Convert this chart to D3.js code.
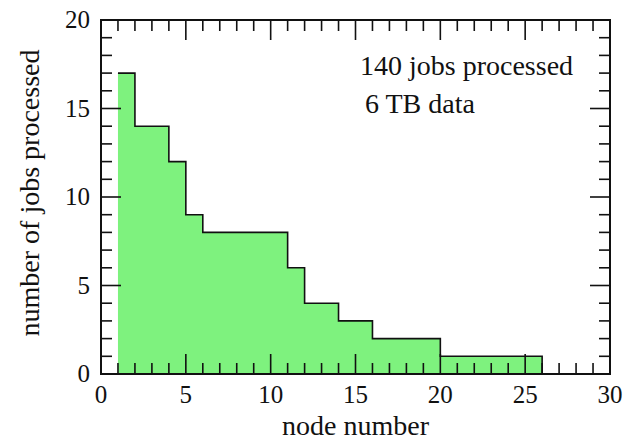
<!DOCTYPE html>
<html>
<head>
<meta charset="utf-8">
<script src="https://cdn.jsdelivr.net/npm/d3@7"></script>
<style>
    html, body { margin: 0; padding: 0; background: #fff; }
</style>
</head>
<body>
<svg id="chart" width="630" height="441"></svg>
<script>
// jobs processed per node (node n covers [n, n+1])
const nodes = [1, 2, 3, 4, 5, 6, 7, 8, 9, 10, 11, 12, 13, 14, 15, 16, 17, 18, 19, 20, 21, 22, 23, 24, 25];
const jobs  = [17, 14, 14, 12, 9, 8, 8, 8, 8, 8, 6, 4, 4, 3, 3, 2, 2, 2, 2, 1, 1, 1, 1, 1, 1];
const xTicks = [0, 5, 10, 15, 20, 25, 30];
const yTicks = [0, 5, 10, 15, 20];
const notes = ["140 jobs processed", "6 TB data"];

const FONT = "'Liberation Serif', 'Times New Roman', Times, serif";

const svg = d3.select("#chart")
    .attr("font-family", FONT);
const margin = { top: 20, right: 20, bottom: 67, left: 101 };
const width = 630 - margin.left - margin.right;
const height = 441 - margin.top - margin.bottom;

const x = d3.scaleLinear().domain([0, 30]).range([0, width]);
const y = d3.scaleLinear().domain([0, 20]).range([height, 0]);

const g = svg.append("g").attr("transform", `translate(${margin.left},${margin.top})`);

// step outline points
const pts = [];
nodes.forEach((n, i) => {
    pts.push([n, jobs[i]]);
    pts.push([n + 1, jobs[i]]);
});
const last = nodes[nodes.length - 1] + 1;

const area = d3.area()
    .x(d => x(d[0]))
    .y0(y(0))
    .y1(d => y(d[1]));

g.append("path")
    .datum(pts)
    .attr("d", area)
    .attr("fill", "#7ef27e");

const line = d3.line().x(d => x(d[0])).y(d => y(d[1]));
g.append("path")
    .datum(pts.concat([[last, 0]]))
    .attr("d", line)
    .attr("fill", "none")
    .attr("stroke", "#111")
    .attr("stroke-width", 1.6);

// inward ticks on all four sides
const major = 20, minor = 11;
const xMinor = d3.range(0, 31);
const yMinor = d3.range(0, 21);

function tickLen(v) { return v % 5 === 0 ? major : minor; }

const ticks = g.append("g").attr("stroke", "#111").attr("stroke-width", 1.6);
xMinor.slice(1, -1).forEach(v => {
    ticks.append("line").attr("x1", x(v)).attr("x2", x(v))
        .attr("y1", height).attr("y2", height - tickLen(v));
    ticks.append("line").attr("x1", x(v)).attr("x2", x(v))
        .attr("y1", 0).attr("y2", tickLen(v));
});
yMinor.slice(1, -1).forEach(v => {
    ticks.append("line").attr("y1", y(v)).attr("y2", y(v))
        .attr("x1", 0).attr("x2", tickLen(v));
    ticks.append("line").attr("y1", y(v)).attr("y2", y(v))
        .attr("x1", width).attr("x2", width - tickLen(v));
});

// frame
g.append("rect")
    .attr("width", width)
    .attr("height", height)
    .attr("fill", "none")
    .attr("stroke", "#111")
    .attr("stroke-width", 2);

// tick labels
g.selectAll(".xlab")
    .data(xTicks)
    .enter()
    .append("text")
    .attr("class", "xlab")
    .attr("x", d => x(d))
    .attr("y", height + 29)
    .attr("text-anchor", "middle")
    .attr("font-family", FONT)
    .attr("font-size", 25)
    .attr("fill", "#111")
    .text(d => d);

g.selectAll(".ylab")
    .data(yTicks)
    .enter()
    .append("text")
    .attr("class", "ylab")
    .attr("x", -11)
    .attr("y", d => y(d) + 8)
    .attr("text-anchor", "end")
    .attr("font-family", FONT)
    .attr("font-size", 25)
    .attr("fill", "#111")
    .text(d => d);

// axis titles
g.append("text")
    .attr("x", width / 2)
    .attr("y", height + 61)
    .attr("text-anchor", "middle")
    .attr("font-family", FONT)
    .attr("font-size", 28)
    .attr("fill", "#111")
    .text("node number");

g.append("text")
    .attr("transform", `translate(-62,${height / 2 - 4}) rotate(-90)`)
    .attr("text-anchor", "middle")
    .attr("font-family", FONT)
    .attr("font-size", 28)
    .attr("fill", "#111")
    .text("number of jobs processed");

// annotation
g.append("text")
    .attr("x", 259)
    .attr("y", 55)
    .attr("font-family", FONT)
    .attr("font-size", 28)
    .attr("fill", "#111")
    .text(notes[0]);
g.append("text")
    .attr("x", 264)
    .attr("y", 93)
    .attr("font-family", FONT)
    .attr("font-size", 28)
    .attr("fill", "#111")
    .text(notes[1]);
</script>
</body>
</html>
